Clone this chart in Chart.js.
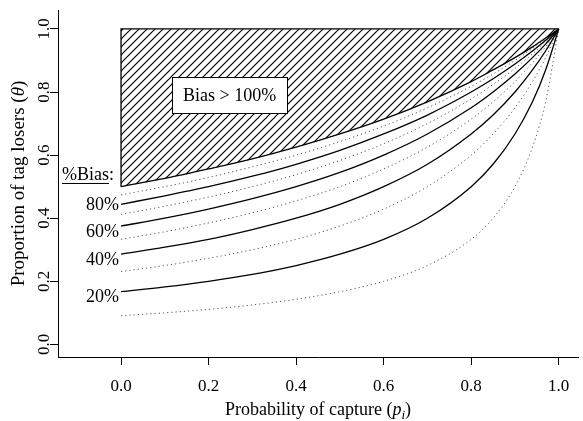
<!DOCTYPE html>
<html>
<head>
<meta charset="utf-8">
<script src="https://cdn.jsdelivr.net/npm/chart.js@4/dist/chart.umd.min.js"></script>
<style>
  html, body { margin: 0; padding: 0; background: #fff; }
</style>
</head>
<body>
<canvas id="chart" width="583" height="421"></canvas>
<script>
// capture probability (x) and proportion of tag losers (y) for each bias level
const captureProb = [0, 0.1, 0.2, 0.3, 0.4, 0.5, 0.6, 0.7, 0.8, 0.85, 0.9, 0.94, 0.97, 1.0];
const bias100 = [0.500, 0.526, 0.556, 0.588, 0.625, 0.667, 0.714, 0.769, 0.833, 0.870, 0.909, 0.943, 0.971, 1];
const bias90  = [0.474, 0.500, 0.529, 0.563, 0.600, 0.643, 0.692, 0.750, 0.818, 0.857, 0.900, 0.938, 0.968, 1];
const bias80  = [0.444, 0.471, 0.500, 0.533, 0.571, 0.615, 0.667, 0.727, 0.800, 0.842, 0.889, 0.930, 0.964, 1];
const bias70  = [0.412, 0.438, 0.467, 0.500, 0.538, 0.583, 0.636, 0.700, 0.778, 0.824, 0.875, 0.921, 0.959, 1];
const bias60  = [0.375, 0.400, 0.429, 0.462, 0.500, 0.545, 0.600, 0.667, 0.750, 0.800, 0.857, 0.909, 0.952, 1];
const bias50  = [0.333, 0.357, 0.385, 0.417, 0.455, 0.500, 0.556, 0.625, 0.714, 0.769, 0.833, 0.893, 0.943, 1];
const bias40  = [0.286, 0.308, 0.333, 0.364, 0.400, 0.444, 0.500, 0.571, 0.667, 0.727, 0.800, 0.870, 0.930, 1];
const bias30  = [0.231, 0.250, 0.273, 0.300, 0.333, 0.375, 0.429, 0.500, 0.600, 0.667, 0.750, 0.833, 0.909, 1];
const bias20  = [0.167, 0.182, 0.200, 0.222, 0.250, 0.286, 0.333, 0.400, 0.500, 0.571, 0.667, 0.769, 0.870, 1];
const bias10  = [0.091, 0.100, 0.111, 0.125, 0.143, 0.167, 0.200, 0.250, 0.333, 0.400, 0.500, 0.625, 0.769, 1];

const solidLabels = ['20%', '40%', '60%', '80%'];
const xTicks = [0, 0.2, 0.4, 0.6, 0.8, 1.0];
const yTicks = [0, 0.2, 0.4, 0.6, 0.8, 1.0];

const serif = "'Liberation Serif', 'Times New Roman', serif";

function points(ys) {
    return captureProb.map((x, i) => ({ x: x, y: ys[i] }));
}

function hatchPattern() {
    const c = document.createElement('canvas');
    c.width = 8; c.height = 8;
    const g = c.getContext('2d');
    g.strokeStyle = '#000';
    g.lineWidth = 1.2;
    g.beginPath();
    g.moveTo(0, 8); g.lineTo(8, 0);
    g.moveTo(-1, 1); g.lineTo(1, -1);
    g.moveTo(7, 9); g.lineTo(9, 7);
    g.stroke();
    return g.createPattern(c, 'repeat');
}

function solid(ys) {
    return { data: points(ys), borderColor: '#000', borderWidth: 1.3, pointRadius: 0, cubicInterpolationMode: 'monotone', fill: false };
}
function dotted(ys) {
    return { data: points(ys), borderColor: '#555', borderWidth: 1, borderDash: [1.2, 3], pointRadius: 0, cubicInterpolationMode: 'monotone', fill: false };
}

// text, labels and the "Bias > 100%" box
const overlay = {
    id: 'overlay',
    afterDatasetsDraw(chart) {
        const { ctx, scales: { x, y } } = chart;
        ctx.save();

        // box
        const bx = x.getPixelForValue(0.248), by = y.getPixelForValue(0.79);
        const bw = 115, bh = 36;
        ctx.fillStyle = '#fff';
        ctx.fillRect(bx - bw / 2, by - bh / 2, bw, bh);
        ctx.strokeStyle = '#000';
        ctx.lineWidth = 1;
        ctx.strokeRect(Math.round(bx - bw / 2) + 0.5, Math.round(by - bh / 2) + 0.5, bw, bh);
        ctx.fillStyle = '#000';
        ctx.font = '18px ' + serif;
        ctx.textAlign = 'center';
        ctx.textBaseline = 'middle';
        ctx.fillText('Bias > 100%', bx, by + 1);

        // curve labels
        const labelY = [0.15, 0.266, 0.354, 0.44];
        ctx.textAlign = 'right';
        const lx = x.getPixelForValue(0) - 2;
        solidLabels.forEach((t, i) => ctx.fillText(t, lx, y.getPixelForValue(labelY[i])));

        // %Bias:
        const hy = y.getPixelForValue(0.535);
        const colonW = ctx.measureText(':').width;
        const bwText = ctx.measureText('%Bias').width;
        const endX = lx - 5;
        ctx.textAlign = 'left';
        ctx.fillText('%Bias', endX - colonW - bwText, hy);
        ctx.fillText(':', endX - colonW, hy);
        ctx.beginPath();
        ctx.moveTo(endX - colonW - bwText, Math.round(hy) + 7.5);
        ctx.lineTo(endX - colonW, Math.round(hy) + 7.5);
        ctx.stroke();

        // y tick labels (rotated)
        ctx.font = '17px ' + serif;
        ctx.textAlign = 'center';
        ctx.textBaseline = 'alphabetic';
        yTicks.forEach(v => {
            ctx.save();
            ctx.translate(49, y.getPixelForValue(v));
            ctx.rotate(-Math.PI / 2);
            ctx.fillText(v.toFixed(1), 0, 0);
            ctx.restore();
        });

        // y title
        const yParts = [['Proportion of tag losers (', '19px ' + serif], ['\u03B8', 'italic 19px ' + serif], [')', '19px ' + serif]];
        let total = 0;
        yParts.forEach(p => { ctx.font = p[1]; total += ctx.measureText(p[0]).width; });
        ctx.save();
        ctx.translate(24, (chart.chartArea.top + chart.chartArea.bottom) / 2);
        ctx.rotate(-Math.PI / 2);
        ctx.textAlign = 'left';
        let cx = -total / 2;
        yParts.forEach(p => { ctx.font = p[1]; ctx.fillText(p[0], cx, 0); cx += ctx.measureText(p[0]).width; });
        ctx.restore();

        // x title
        const xParts = [['Probability of capture (', '18px ' + serif, 0], ['p', 'italic 18px ' + serif, 0], ['i', 'italic 13px ' + serif, 4], [')', '18px ' + serif, 0]];
        total = 0;
        xParts.forEach(p => { ctx.font = p[1]; total += ctx.measureText(p[0]).width; });
        cx = (chart.chartArea.left + chart.chartArea.right) / 2 - total / 2;
        ctx.textAlign = 'left';
        xParts.forEach(p => { ctx.font = p[1]; ctx.fillText(p[0], cx, 415 + p[2]); cx += ctx.measureText(p[0]).width; });

        ctx.restore();
    }
};

const datasets = [
    // hatched region above the 100% curve
    Object.assign(solid(bias100), { fill: { value: 1 }, backgroundColor: hatchPattern() }),
    { data: [{ x: 0, y: bias100[0] }, { x: 0, y: 1 }, { x: 1, y: 1 }], borderColor: '#000', borderWidth: 1.3, pointRadius: 0, fill: false },
    solid(bias80), solid(bias60), solid(bias40), solid(bias20),
    dotted(bias90), dotted(bias70), dotted(bias50), dotted(bias30), dotted(bias10)
];

new Chart(document.getElementById('chart'), {
    type: 'line',
    data: { datasets: datasets },
    options: {
        responsive: false,
        animation: false,
        devicePixelRatio: 1,
        layout: { padding: { top: 10, right: 5, left: 0, bottom: 0 } },
        plugins: { legend: { display: false }, tooltip: { enabled: false } },
        scales: {
            x: {
                type: 'linear', min: -0.144, max: 1.044,
                afterBuildTicks: a => { a.ticks = xTicks.map(v => ({ value: v })); },
                afterFit: s => { s.height = 64; },
                grid: { drawOnChartArea: false, drawTicks: true, tickLength: 8, color: '#000' },
                border: { display: true, color: '#000', width: 1 },
                ticks: { color: '#000', padding: 11, font: { family: serif, size: 17 }, callback: v => v.toFixed(1) }
            },
            y: {
                type: 'linear', min: -0.04, max: 1.06,
                afterBuildTicks: a => { a.ticks = yTicks.map(v => ({ value: v })); },
                afterFit: s => { s.width = 58; },
                grid: { drawOnChartArea: false, drawTicks: true, tickLength: 8, color: '#000' },
                border: { display: true, color: '#000', width: 1 },
                ticks: { display: false }
            }
        }
    },
    plugins: [overlay]
});
</script>
</body>
</html>
